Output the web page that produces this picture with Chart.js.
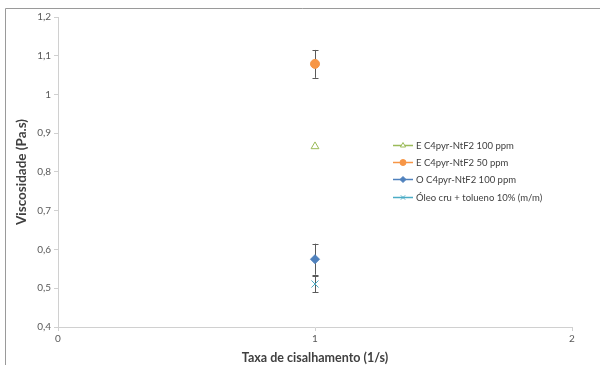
<!DOCTYPE html>
<html>
<head>
<meta charset="utf-8">
<script src="https://cdn.jsdelivr.net/npm/chart.js@4.4.1/dist/chart.umd.min.js"></script>
<style>
  html, body { margin: 0; padding: 0; background: #fff; }
  #wrap { width: 600px; height: 365px; position: relative; }
</style>
</head>
<body>
<div id="wrap"><canvas id="c" width="600" height="365"></canvas></div>
<script>
// Series names, shear rate (x), mean viscosity (y) and its error (±)
const seriesLabels = [
  'E C4pyr-NtF2 100 ppm',
  'E C4pyr-NtF2 50 ppm',
  'O C4pyr-NtF2 100 ppm',
  'Óleo cru + tolueno 10% (m/m)'
];
const shearRate = [1, 1, 1, 1];
const viscosity = [0.866, 1.079, 0.575, 0.511];
const viscosityErr = [0, 0.036, 0.04, 0.021];

// Axis ticks
const xTicks = [0, 1, 2];
const yTicks = [0.4, 0.5, 0.6, 0.7, 0.8, 0.9, 1.0, 1.1, 1.2];

const colors = ['#9BBB59', '#F79646', '#4F81BD', '#4BACC6'];
const styles = ['triangle', 'circle', 'rectRot', 'crossRot'];
const fills  = ['#ffffff', '#F79646', '#4F81BD', '#4BACC6'];
const radii  = [4.5, 4.5, 4.5, 5];

const FONT = 'Lato, "Open Sans", "Liberation Sans", sans-serif';
const fmt = v => String(Math.round(v * 10) / 10).replace('.', ',');

const datasets = seriesLabels.map((label, i) => ({
  label,
  data: [{ x: shearRate[i], y: viscosity[i] }],
  err: viscosityErr[i],
  pointStyle: styles[i],
  pointRadius: radii[i],
  pointHoverRadius: radii[i],
  pointBorderWidth: 1,
  borderColor: colors[i],
  backgroundColor: fills[i],
  showLine: false
}));

// Vertical error bars with caps, placed through the scales
const errorBars = {
  id: 'errorBars',
  beforeDatasetsDraw(chart) {
    const { ctx, scales: { x, y } } = chart;
    ctx.save();
    ctx.strokeStyle = '#5a5a5a';
    ctx.lineWidth = 1;
    chart.data.datasets.forEach(ds => {
      if (!ds.err) return;
      ds.data.forEach(p => {
        const px = Math.round(x.getPixelForValue(p.x)) + 0.5;
        const top = y.getPixelForValue(p.y + ds.err);
        const bot = y.getPixelForValue(p.y - ds.err);
        ctx.beginPath();
        ctx.moveTo(px, top); ctx.lineTo(px, bot);
        ctx.moveTo(px - 3, Math.round(top) + 0.5); ctx.lineTo(px + 3, Math.round(top) + 0.5);
        ctx.moveTo(px - 3, Math.round(bot) + 0.5); ctx.lineTo(px + 3, Math.round(bot) + 0.5);
        ctx.stroke();
      });
    });
    ctx.restore();
  }
};

// Frame around the chart and legend with line + marker samples
const frameAndLegend = {
  id: 'frameAndLegend',
  beforeDraw(chart) {
    const { ctx } = chart;
    ctx.save();
    ctx.fillStyle = '#fff';
    ctx.fillRect(0, 0, chart.width, chart.height);
    ctx.strokeStyle = '#9a9a9a';
    ctx.lineWidth = 1;
    ctx.beginPath();
    ctx.moveTo(5.5, chart.height);
    ctx.lineTo(5.5, 8.5);
    ctx.lineTo(chart.width, 8.5);
    ctx.stroke();
    ctx.restore();
  },
  afterDraw(chart) {
    const { ctx } = chart;
    const x0 = 393, x1 = 413, tx = 416;
    const rows = [145, 162, 179, 197];
    ctx.save();
    chart.data.datasets.forEach((ds, i) => {
      const yy = rows[i] + 0.5;
      ctx.strokeStyle = colors[i];
      ctx.lineWidth = 1.5;
      ctx.beginPath();
      ctx.moveTo(x0, yy); ctx.lineTo(x1, yy);
      ctx.stroke();
      ctx.lineWidth = 1;
      ctx.fillStyle = fills[i];
      Chart.helpers.drawPoint(ctx, {
        pointStyle: styles[i], radius: 3, borderWidth: 1
      }, (x0 + x1) / 2, yy);
      ctx.fillStyle = '#404040';
      ctx.font = '9.5px ' + FONT;
      ctx.textBaseline = 'middle';
      ctx.textAlign = 'left';
      ctx.fillText(ds.label, tx, yy);
    });
    ctx.restore();
  }
};

new Chart(document.getElementById('c'), {
  type: 'scatter',
  data: { datasets },
  plugins: [errorBars, frameAndLegend],
  options: {
    responsive: false,
    animation: false,
    devicePixelRatio: 1,
    layout: { padding: { top: 17, right: 28, left: 0, bottom: 0 } },
    plugins: {
      legend: { display: false },
      tooltip: { enabled: false }
    },
    scales: {
      x: {
        type: 'linear',
        min: 0, max: 2,
        afterBuildTicks: s => { s.ticks = xTicks.map(v => ({ value: v })); },
        afterFit: s => { s.height = 38; },
        grid: { drawOnChartArea: false, drawTicks: true, tickLength: 4, color: '#d0d0d0' },
        border: { color: '#d0d0d0' },
        ticks: { color: '#595959', font: { family: FONT, size: 10 }, padding: 2 },
        title: {
          display: true,
          text: 'Taxa de cisalhamento (1/s)',
          color: '#404040',
          font: { family: FONT, size: 12.5, weight: 'bold' },
          padding: { top: 1, bottom: 0 }
        }
      },
      y: {
        type: 'linear',
        min: 0.4, max: 1.2,
        afterBuildTicks: s => { s.ticks = yTicks.map(v => ({ value: v })); },
        afterFit: s => { s.width = 58; },
        grid: { drawOnChartArea: false, drawTicks: true, tickLength: 4, color: '#d0d0d0' },
        border: { color: '#d0d0d0' },
        ticks: { color: '#595959', font: { family: FONT, size: 10 }, padding: 3, callback: v => fmt(v) },
        title: {
          display: true,
          text: 'Viscosidade (Pa.s)',
          color: '#404040',
          font: { family: FONT, size: 13.5, weight: 'bold' },
          padding: { top: 14, bottom: 0 }
        }
      }
    }
  }
});
</script>
</body>
</html>
